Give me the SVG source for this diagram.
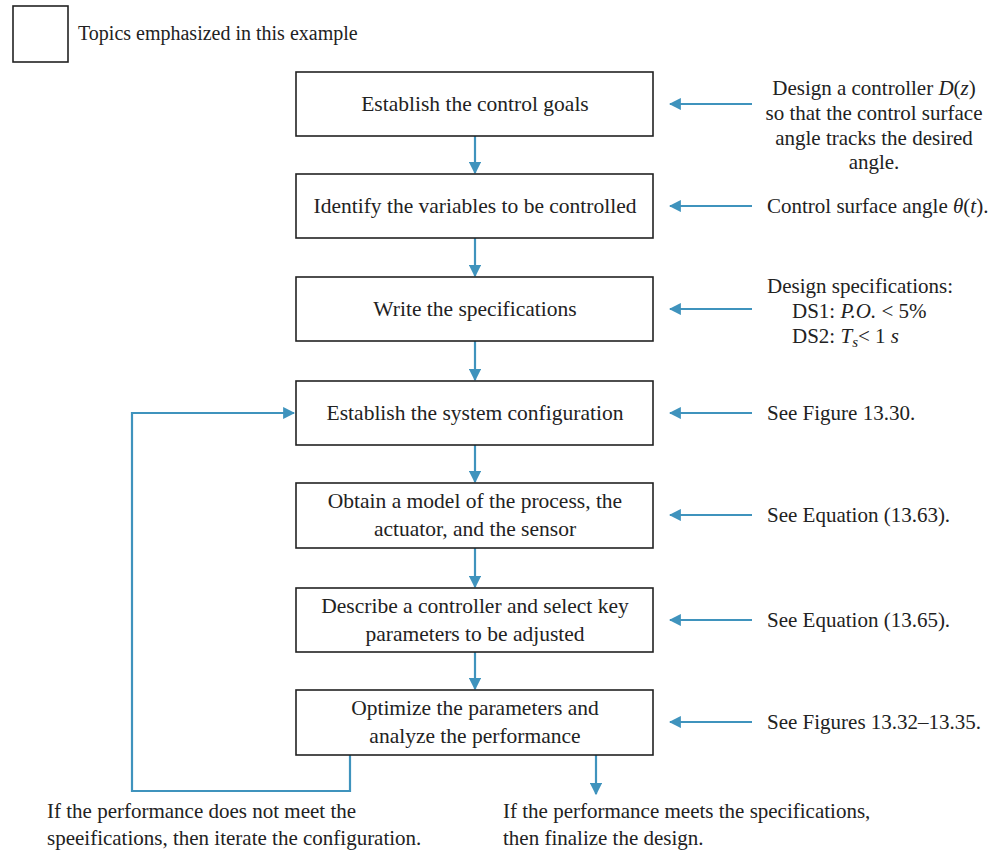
<svg xmlns="http://www.w3.org/2000/svg" width="1007" height="851" viewBox="0 0 1007 851">
<style>
text{font-family:"Liberation Serif","Times New Roman",serif;font-size:21px;fill:#222}
.c{text-anchor:middle}
.b{font-size:21.5px}
.box{fill:#fff;stroke:#222;stroke-width:1.6}
.conn{fill:none;stroke:#3f93bd;stroke-width:2.2}
.i{font-style:italic}
</style>
<defs>
<marker id="ah" viewBox="0 0 10 10" refX="9" refY="5" markerWidth="5.5" markerHeight="5.5" orient="auto" markerUnits="strokeWidth">
<path d="M0,0 L10,5 L0,10 z" fill="#3f93bd"/>
</marker>
</defs>
<rect width="1007" height="851" fill="#fff"/>
<g id="legend">
<rect class="box" x="13" y="6" width="55" height="56"/>
<text x="78" y="40" style="font-size:20px">Topics emphasized in this example</text>
</g>
<g id="connectors">
<line class="conn" x1="475" y1="136" x2="475" y2="173" marker-end="url(#ah)"/>
<line class="conn" x1="475" y1="238" x2="475" y2="276" marker-end="url(#ah)"/>
<line class="conn" x1="475" y1="341" x2="475" y2="380" marker-end="url(#ah)"/>
<line class="conn" x1="475" y1="445" x2="475" y2="482" marker-end="url(#ah)"/>
<line class="conn" x1="475" y1="548" x2="475" y2="587" marker-end="url(#ah)"/>
<line class="conn" x1="475" y1="652" x2="475" y2="689" marker-end="url(#ah)"/>
<line class="conn" x1="596" y1="755" x2="596" y2="794" marker-end="url(#ah)"/>
<polyline class="conn" points="350,755 350,791 132,791 132,413 294,413" marker-end="url(#ah)"/>
<line class="conn" x1="752" y1="104" x2="670" y2="104" marker-end="url(#ah)"/>
<line class="conn" x1="752" y1="206" x2="670" y2="206" marker-end="url(#ah)"/>
<line class="conn" x1="752" y1="309" x2="670" y2="309" marker-end="url(#ah)"/>
<line class="conn" x1="752" y1="413" x2="670" y2="413" marker-end="url(#ah)"/>
<line class="conn" x1="752" y1="515" x2="670" y2="515" marker-end="url(#ah)"/>
<line class="conn" x1="752" y1="620" x2="670" y2="620" marker-end="url(#ah)"/>
<line class="conn" x1="752" y1="722" x2="670" y2="722" marker-end="url(#ah)"/>
</g>
<g id="n1">
<rect class="box" x="296" y="72" width="357" height="64"/>
<text class="c b" x="475" y="111">Establish the control goals</text>
</g>
<g id="n2">
<rect class="box" x="296" y="174" width="357" height="64"/>
<text class="c b" x="475" y="213">Identify the variables to be controlled</text>
</g>
<g id="n3">
<rect class="box" x="296" y="277" width="357" height="64"/>
<text class="c b" x="475" y="316">Write the specifications</text>
</g>
<g id="n4">
<rect class="box" x="296" y="381" width="357" height="64"/>
<text class="c b" x="475" y="420">Establish the system configuration</text>
</g>
<g id="n5">
<rect class="box" x="296" y="483" width="357" height="65"/>
<text class="c b" x="475" y="508">Obtain a model of the process, the</text>
<text class="c b" x="475" y="536">actuator, and the sensor</text>
</g>
<g id="n6">
<rect class="box" x="296" y="588" width="357" height="64"/>
<text class="c b" x="475" y="613">Describe a controller and select key</text>
<text class="c b" x="475" y="641">parameters to be adjusted</text>
</g>
<g id="n7">
<rect class="box" x="296" y="690" width="357" height="65"/>
<text class="c b" x="475" y="715">Optimize the parameters and</text>
<text class="c b" x="475" y="743">analyze the performance</text>
</g>
<g id="notes">
<text class="c" x="874" y="95">Design a controller <tspan class="i">D</tspan>(<tspan class="i">z</tspan>)</text>
<text class="c" x="874" y="120">so that the control surface</text>
<text class="c" x="874" y="145">angle tracks the desired</text>
<text class="c" x="874" y="169">angle.</text>
<text x="767" y="213">Control surface angle <tspan class="i">θ</tspan>(<tspan class="i">t</tspan>).</text>
<text x="767" y="293">Design specifications:</text>
<text x="792" y="318">DS1: <tspan class="i">P.O.</tspan> &lt; 5%</text>
<text x="792" y="343">DS2: <tspan class="i">T</tspan><tspan class="i" dy="4" style="font-size:15px">s</tspan><tspan dy="-4">&lt; 1 </tspan><tspan class="i">s</tspan></text>
<text x="767" y="420">See Figure 13.30.</text>
<text x="767" y="522">See Equation (13.63).</text>
<text x="767" y="627">See Equation (13.65).</text>
<text x="767" y="729">See Figures 13.32–13.35.</text>
<text x="47" y="818">If the performance does not meet the</text>
<text x="47" y="845">speeifications, then iterate the configuration.</text>
<text x="503" y="818">If the performance meets the specifications,</text>
<text x="503" y="845">then finalize the design.</text>
</g>
</svg>
